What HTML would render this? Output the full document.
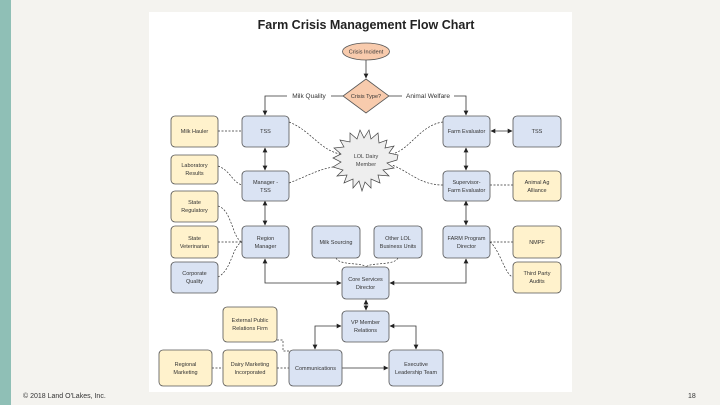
<!DOCTYPE html>
<html><head><meta charset="utf-8"><style>
html,body{margin:0;padding:0;width:720px;height:405px;overflow:hidden;background:#f4f3ef;font-family:"Liberation Sans",sans-serif}
</style></head><body>
<svg width="720" height="405" viewBox="0 0 720 405" xmlns="http://www.w3.org/2000/svg" font-family="Liberation Sans, sans-serif">
<defs>
<marker id="a" viewBox="0 0 10 10" refX="9" refY="5" markerWidth="6" markerHeight="6" orient="auto-start-reverse"><path d="M0,0L10,5L0,10z" fill="#222"/></marker>
</defs>
<rect x="0" y="0" width="11" height="405" fill="#8fbfb6"/>
<rect x="149" y="12" width="423" height="380" fill="#fff"/>
<text x="366" y="29" font-size="12.5" font-weight="bold" text-anchor="middle" fill="#222">Farm Crisis Management Flow Chart</text>
<g stroke="#333" stroke-width="0.8" fill="none">
<path d="M366,60V78" marker-end="url(#a)"/>
<path d="M343,96H265V115" marker-end="url(#a)"/>
<path d="M389,96H466V115" marker-end="url(#a)"/>
<path d="M265,148V170" marker-start="url(#a)" marker-end="url(#a)"/>
<path d="M265,201V225" marker-start="url(#a)" marker-end="url(#a)"/>
<path d="M466,148V170" marker-start="url(#a)" marker-end="url(#a)"/>
<path d="M466,201V225" marker-start="url(#a)" marker-end="url(#a)"/>
<path d="M491,131H512" marker-start="url(#a)" marker-end="url(#a)"/>
<path d="M265,259V283H341" marker-start="url(#a)" marker-end="url(#a)"/>
<path d="M466,259V283H390" marker-start="url(#a)" marker-end="url(#a)"/>
<path d="M366,300V310" marker-start="url(#a)" marker-end="url(#a)"/>
<path d="M341,326H315V349" marker-start="url(#a)" marker-end="url(#a)"/>
<path d="M390,326H416V349" marker-start="url(#a)" marker-end="url(#a)"/>
<path d="M342,368H388" marker-end="url(#a)"/>
</g>
<g stroke="#333" stroke-width="0.7" fill="none" stroke-dasharray="2,1.5">
<path d="M218,131H242"/>
<path d="M289,122C310,130 320,150 340,154"/>
<path d="M289,183C310,175 320,168 340,166"/>
<path d="M443,122C420,125 410,150 392,154"/>
<path d="M443,185C420,185 410,172 392,165"/>
<path d="M218,166C230,170 232,182 242,185"/>
<path d="M490,185H513"/>
<path d="M218,206C232,210 232,238 242,242"/>
<path d="M218,242H242"/>
<path d="M218,277C232,270 232,246 242,242"/>
<path d="M490,242H513"/>
<path d="M490,242C500,250 505,275 513,277"/>
<path d="M336,258C340,266 362,262 366,267"/>
<path d="M398,258C394,266 370,262 366,267"/>
<path d="M277,340H283V351H289"/>
<path d="M212,368H223"/>
<path d="M277,368H289"/>
</g>
<ellipse cx="366" cy="51.5" rx="23.5" ry="8.5" fill="#f8cbad" stroke="#555" stroke-width="0.8"/>
<text x="366" y="53.5" font-size="5.5" text-anchor="middle" fill="#333">Crisis Incident</text>
<path d="M366,79L389,96L366,113L343,96Z" fill="#f8cbad" stroke="#555" stroke-width="0.8"/>
<text x="366" y="98" font-size="5.5" text-anchor="middle" fill="#333">Crisis Type?</text>
<rect x="287" y="91" width="44" height="9" fill="#fff"/>
<text x="309" y="98" font-size="6.5" text-anchor="middle" fill="#333">Milk Quality</text>
<rect x="402" y="91" width="52" height="9" fill="#fff"/>
<text x="428" y="98" font-size="6.5" text-anchor="middle" fill="#333">Animal Welfare</text>
<polygon fill="#eeeeee" stroke="#444" stroke-width="0.7" points="
397,160 387,163 394,168 383,170 389,176 378,175 380,183 371,179 371,188 365,182 362,191 359,181 353,188 353,179 344,183 347,175 337,176 343,170 333,167 341,162 333,158 341,154 334,148 344,147 340,140 350,142 350,133 357,139 360,130 364,138 369,130 371,139 378,133 379,143 387,140 385,148 394,146 389,153 398,155"/>
<text x="366" y="158" font-size="5.5" text-anchor="middle" fill="#444">LOL Dairy</text>
<text x="366" y="166" font-size="5.5" text-anchor="middle" fill="#444">Member</text>
<g stroke="#555" stroke-width="0.8">
<rect x="242" y="116" width="47" height="31" rx="4" fill="#dae3f3"/>
<rect x="171" y="116" width="47" height="31" rx="4" fill="#fff2cc"/>
<rect x="443" y="116" width="47" height="31" rx="4" fill="#dae3f3"/>
<rect x="513" y="116" width="48" height="31" rx="4" fill="#dae3f3"/>
<rect x="171" y="155" width="47" height="29" rx="4" fill="#fff2cc"/>
<rect x="242" y="171" width="47" height="30" rx="4" fill="#dae3f3"/>
<rect x="443" y="171" width="47" height="30" rx="4" fill="#dae3f3"/>
<rect x="513" y="171" width="48" height="30" rx="4" fill="#fff2cc"/>
<rect x="171" y="191" width="47" height="31" rx="4" fill="#fff2cc"/>
<rect x="171" y="226" width="47" height="32" rx="4" fill="#fff2cc"/>
<rect x="242" y="226" width="47" height="32" rx="4" fill="#dae3f3"/>
<rect x="312" y="226" width="48" height="32" rx="4" fill="#dae3f3"/>
<rect x="374" y="226" width="48" height="32" rx="4" fill="#dae3f3"/>
<rect x="443" y="226" width="47" height="32" rx="4" fill="#dae3f3"/>
<rect x="513" y="226" width="48" height="32" rx="4" fill="#fff2cc"/>
<rect x="171" y="262" width="47" height="31" rx="4" fill="#dae3f3"/>
<rect x="513" y="262" width="48" height="31" rx="4" fill="#fff2cc"/>
<rect x="342" y="267" width="47" height="32" rx="4" fill="#dae3f3"/>
<rect x="342" y="311" width="47" height="31" rx="4" fill="#dae3f3"/>
<rect x="223" y="307" width="54" height="35" rx="4" fill="#fff2cc"/>
<rect x="159" y="350" width="53" height="36" rx="4" fill="#fff2cc"/>
<rect x="223" y="350" width="54" height="36" rx="4" fill="#fff2cc"/>
<rect x="289" y="350" width="53" height="36" rx="4" fill="#dae3f3"/>
<rect x="389" y="350" width="54" height="36" rx="4" fill="#dae3f3"/>
</g>
<g font-size="5.5" text-anchor="middle" fill="#333">
<text x="265.5" y="133">TSS</text>
<text x="194.5" y="133">Milk Hauler</text>
<text x="466.5" y="133">Farm Evaluator</text>
<text x="537" y="133">TSS</text>
<text x="194.5" y="167">Laboratory</text><text x="194.5" y="175">Results</text>
<text x="265.5" y="184">Manager -</text><text x="265.5" y="192">TSS</text>
<text x="466.5" y="184">Supervisor-</text><text x="466.5" y="192">Farm Evaluator</text>
<text x="537" y="184">Animal Ag</text><text x="537" y="192">Alliance</text>
<text x="194.5" y="204">State</text><text x="194.5" y="212">Regulatory</text>
<text x="194.5" y="240">State</text><text x="194.5" y="248">Veterinarian</text>
<text x="265.5" y="240">Region</text><text x="265.5" y="248">Manager</text>
<text x="336" y="244">Milk Sourcing</text>
<text x="398" y="240">Other LOL</text><text x="398" y="248">Business Units</text>
<text x="466.5" y="240">FARM Program</text><text x="466.5" y="248">Director</text>
<text x="537" y="244">NMPF</text>
<text x="194.5" y="275">Corporate</text><text x="194.5" y="283">Quality</text>
<text x="537" y="275">Third Party</text><text x="537" y="283">Audits</text>
<text x="365.5" y="281">Core Services</text><text x="365.5" y="289">Director</text>
<text x="365.5" y="324">VP Member</text><text x="365.5" y="332">Relations</text>
<text x="250" y="322">External Public</text><text x="250" y="330">Relations Firm</text>
<text x="185.5" y="366">Regional</text><text x="185.5" y="374">Marketing</text>
<text x="250" y="366">Dairy Marketing</text><text x="250" y="374">Incorporated</text>
<text x="315.5" y="370">Communications</text>
<text x="416" y="366">Executive</text><text x="416" y="374">Leadership Team</text>
</g>
<text x="23" y="398" font-size="7" fill="#333">© 2018 Land O'Lakes, Inc.</text>
<text x="688" y="398" font-size="7" fill="#333">18</text>
</svg>
</body></html>
